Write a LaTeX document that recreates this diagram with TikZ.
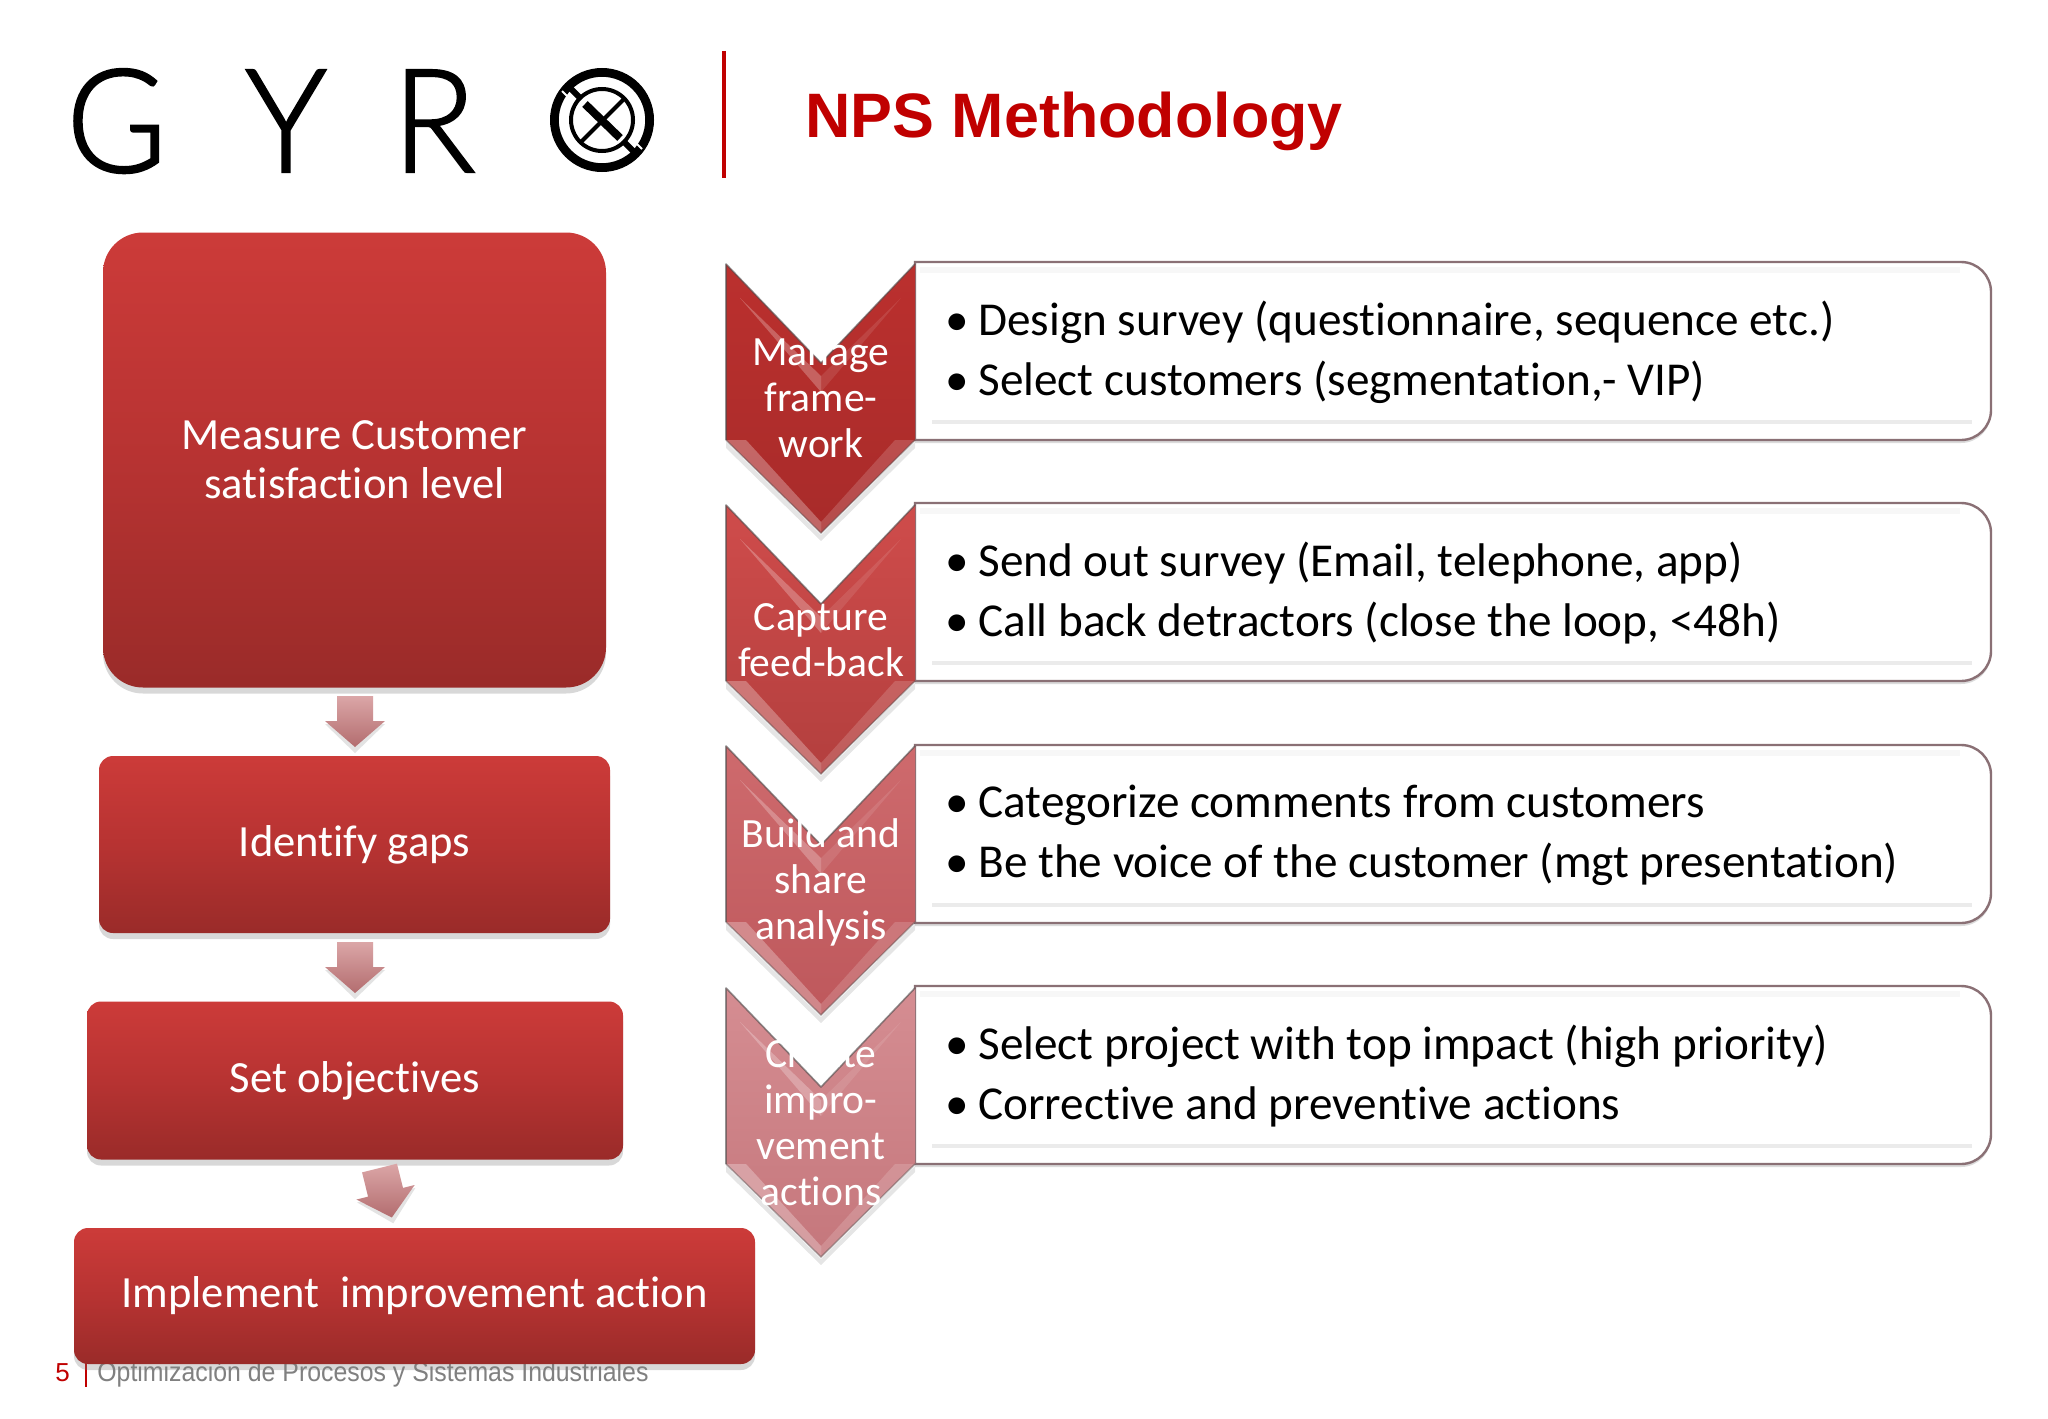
\documentclass[tikz,border=0pt]{standalone}
\usepackage{fontspec}
\setmainfont[Ligatures=NoCommon]{Carlito}
\newfontfamily\arialf{Liberation Sans}
\newfontfamily\arialnarrow[FakeStretch=0.907]{Liberation Sans}
\newfontfamily\logof[FakeBold=1.6,FakeStretch=0.95]{Lato Light}
\usetikzlibrary{shadows}
\definecolor{gyred}{HTML}{C00000}
\definecolor{boxtop}{HTML}{CC3B39}
\definecolor{boxmid}{HTML}{B73332}
\definecolor{boxbot}{HTML}{9A2B29}
\definecolor{arrtop}{HTML}{DBA6A7}
\definecolor{arrbot}{HTML}{B36D6F}
\definecolor{paneledge}{HTML}{8A7075}
\tikzset{
  x=0.5pt,y=-0.5pt,
  redbox/.style={rounded corners=#1,top color=boxtop,bottom color=boxbot,middle color=boxmid,
    text=white,align=center,inner sep=0pt,font=\fontsize{22.3}{24.5}\selectfont,
    drop shadow={shadow xshift=0pt,shadow yshift=-3pt,opacity=.3,fill=black!50}},
  bullets/.style={anchor=west,align=left,inner sep=0pt,text=black,font=\fontsize{23.6}{30}\selectfont},
  chevlabel/.style={text=white,align=center,inner sep=0pt,font=\fontsize{20.8}{23}\selectfont},
  logoletter/.style={anchor=base west,inner sep=0pt,text=black,font=\logof\fontsize{72}{72}\selectfont},
}
\newcommand{\pnlpath}{(915,0) -- (1961,0) arc[start angle=90,end angle=0,radius=15pt] -- (1991,148) arc[start angle=0,end angle=-90,radius=15pt] -- (915,178) -- cycle}
\newcommand{\pnl}[1]{%
  \begin{scope}[yshift=-#1*0.5pt]
    \begin{scope}[yshift=-1.5pt]\fill[black!40,opacity=.35] \pnlpath;\end{scope}
    \filldraw[draw=paneledge,line width=1.2pt,fill=white] \pnlpath;
    \draw[black!8,line width=2pt] (932,160) -- (1972,160);
    \draw[black!3,line width=3pt] (920,8) -- (1960,8);
  \end{scope}}
\newcommand{\chev}[4]{% y, top colour, bottom colour, highlight
  \begin{scope}[yshift=-#1*0.5pt]
    \fill[black,opacity=.10] (726,178) -- (821,271) -- (915,178) -- (915,184) -- (821,277) -- (726,184) -- cycle;
    \shade[top color=#2,bottom color=#3] (726,0) -- (821,99) -- (915,0) -- (915,176) -- (821,269) -- (726,176) -- cycle;
    \fill[#4,opacity=.25] (740,34) -- (821,112) -- (821,128) -- cycle;
    \fill[#4,opacity=.10] (901,34) -- (821,112) -- (821,128) -- cycle;
    \fill[#4,opacity=.28] (726,176) -- (821,269) -- (821,258) -- (746,176) -- cycle;
    \fill[#4,opacity=.16] (915,176) -- (821,269) -- (821,258) -- (895,176) -- cycle;
    \draw[black!70,opacity=.6,line width=.8pt,line join=round] (726,176) -- (726,0) -- (821,99) -- (915,0);
    \draw[black!70,opacity=.4,line width=.8pt] (726,176) -- (821,269) -- (915,176);
  \end{scope}}
\newcommand{\blockarrow}[3]{%
  \begin{scope}[shift={(#1,#2)},rotate=#3]
    \fill[black!50,opacity=.22] (-30,28) -- (30,28) -- (0,57) -- cycle;
    \shade[top color=arrtop,bottom color=arrbot] (-18,0) -- (18,0) -- (18,25) -- (30,25) -- (0,51) -- (-30,25) -- (-18,25) -- cycle;
  \end{scope}}
\begin{document}
\begin{tikzpicture}
\useasboundingbox (0,0) rectangle (2048,1418);
\fill[white] (0,0) rectangle (2048,1418);
% logo
\node[logoletter] (logoG) at (66,172) {G};
\node[logoletter] (logoY) at (245,172) {Y};
\node[logoletter] (logoR) at (392,172) {R};
\coordinate (logoC) at (602,120);
\draw[black,line width=4.4pt] (logoC) circle[radius=23.8pt];
\draw[black,line width=2pt] (logoC) circle[radius=15.5pt];
\draw[black,line width=3pt] (logoC) ++(-23,-23) -- ++(-13,-13);
\draw[black,line width=3pt] (logoC) ++(23,23) -- ++(13,13);
\draw[white,line width=1pt] (logoC) ++(-30,-19) -- ++(-10,-10);
\draw[white,line width=1pt] (logoC) ++(30,19) -- ++(10,10);
\draw[black,line width=4pt] (585,104) -- (620,138);
\draw[black,line width=2pt] (581,142) -- (624,99);
\coordinate (ruleT) at (724,51); \coordinate (ruleB) at (724,178);
\draw[gyred,line width=2pt] (ruleT) -- (ruleB);
\node[anchor=base west,inner sep=0pt,text=gyred,font=\arialf\bfseries\fontsize{31.4}{32}\selectfont] (title) at (805,137) {NPS Methodology};
% footer
\node[anchor=base west,inner sep=0pt,text=gyred,font=\arialf\fontsize{13}{13}\selectfont] (pageno) at (55,1381) {5};
\coordinate (footT) at (86,1363); \coordinate (footB) at (86,1387);
\draw[gyred,line width=1.2pt] (footT) -- (footB);
\node[anchor=base west,inner sep=0pt,text=black!50,font=\arialnarrow\fontsize{13.7}{13.7}\selectfont] (foot) at (97,1381) {Optimización de Procesos y Sistemas Industriales};
% left boxes
\node[redbox=20pt,minimum width=251.5pt,minimum height=227.5pt] (b1) at (354.5,460) {Measure Customer\\satisfaction level};
\node[redbox=7pt,minimum width=255.5pt,minimum height=88.5pt] (b2) at (354.5,844.5) {\raisebox{-.6pt}{Identify gaps}};
\node[redbox=7pt,minimum width=268pt,minimum height=79pt] (b3) at (355,1080.5) {\raisebox{-.6pt}{Set objectives}};
\node[redbox=7pt,minimum width=340.5pt,minimum height=68pt] (b4) at (414.5,1296) {\raisebox{-.6pt}{Implement\ \ improvement action}};
\blockarrow{355}{696}{0}
\blockarrow{355}{942}{0}
\blockarrow{379.5}{1168}{14}
% panels
\pnl{262}\pnl{503}\pnl{745}\pnl{986}
% chevrons
\definecolor{c1a}{HTML}{BB302E}\definecolor{c1b}{HTML}{A82B2A}
\definecolor{c2a}{HTML}{CF4C4B}\definecolor{c2b}{HTML}{B33F3E}
\definecolor{c3a}{HTML}{CE6A6D}\definecolor{c3b}{HTML}{BE585C}
\definecolor{c4a}{HTML}{D58D92}\definecolor{c4b}{HTML}{C5777C}
\chev{264}{c1a}{c1b}{white}
\chev{505}{c2a}{c2b}{white}
\chev{746}{c3a}{c3b}{white}
\chev{988}{c4a}{c4b}{white}
\node[chevlabel] (c1) at (821,398) {Manage\\frame-\\work};
\node[chevlabel] (c2) at (821,640) {Capture\\feed-back};
\node[chevlabel] (c3) at (821,882) {Build and\\share\\analysis};
\node[chevlabel] (c4) at (821,1123) {Create\\impro-\\vement\\actions};
% bullets
\newcommand{\itm}[1]{\makebox[16.5pt][l]{\textbullet}#1}
\node[bullets] (t1) at (945,352) {\itm{Design survey (questionnaire, sequence etc.)}\\\itm{Select customers (segmentation,- VIP)}};
\node[bullets] (t2) at (945,593) {\itm{Send out survey (Email, telephone, app)}\\\itm{Call back detractors (close the loop, <48h)}};
\node[bullets] (t3) at (945,835) {\itm{Categorize comments from customers}\\\itm{Be the voice of the customer (mgt presentation)}};
\node[bullets] (t4) at (945,1076) {\itm{Select project with top impact (high priority)}\\\itm{Corrective and preventive actions}};
\end{tikzpicture}
\end{document}
